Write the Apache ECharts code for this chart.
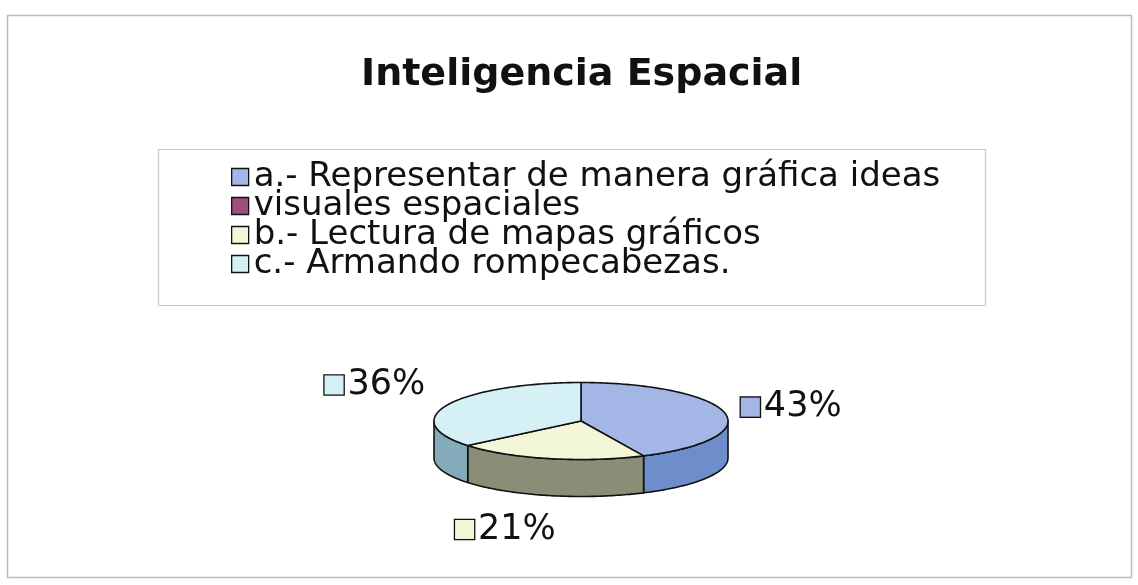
<!DOCTYPE html>
<html>
<head>
<meta charset="utf-8">
<script src="https://cdn.jsdelivr.net/npm/echarts@6/dist/echarts.min.js"></script>
<style>
  html, body { margin: 0; padding: 0; background: #fff; }
  #chart-container { width: 1138px; height: 585px; }
</style>
</head>
<body>
<div id="chart-container"></div>
<script>
var dom = document.getElementById("chart-container");
var myChart = echarts.init(dom, null, { renderer: "canvas" });

// data
const categories = [
  "a.- Representar de manera gráfica ideas",
  "visuales espaciales",
  "b.- Lectura de mapas gráficos",
  "c.- Armando rompecabezas.",
];
const values = [43, 0, 21, 36];

// look of the slices (top face / side wall)
const topColors = ["#A4B6E6", "#9C4F78", "#F4F6D8", "#D6F1F6"];
const sideColors = ["#6D8DCB", "#6E3050", "#8A8E77", "#83ABBA"];
// small label nudges, Excel style placement
const labelNudge = [[-8, 0], [0, 0], [-38, -8], [0, -9]];

// pie layout
const pie = { cx: 581, cy: 421, rx: 147, ry: 38.5, depth: 37, gap: 25 };

const total = values.reduce((a, b) => a + b, 0);

function pt(theta, dy) {
  return [pie.cx + pie.rx * Math.sin(theta), pie.cy - pie.ry * Math.cos(theta) + (dy || 0)];
}

function arc(a0, a1, dy) {
  var pts = [];
  var n = Math.max(2, Math.ceil(((a1 - a0) * 180) / Math.PI));
  for (var i = 0; i <= n; i++) {
    pts.push(pt(a0 + ((a1 - a0) * i) / n, dy));
  }
  return pts;
}

function renderSlice(idx) {
  return function (params, api) {
    var v = api.value(0);
    if (!v) return { type: "group", children: [] };
    var before = 0;
    for (var i = 0; i < idx; i++) before += values[i];
    var a0 = (before / total) * Math.PI * 2;
    var a1 = ((before + v) / total) * Math.PI * 2;
    var children = [];

    // front side wall
    var s = Math.max(a0, Math.PI / 2);
    var e = Math.min(a1, Math.PI * 1.5);
    if (e > s) {
      var wall = arc(s, e, 0).concat(arc(s, e, pie.depth).reverse());
      children.push({
        type: "polygon",
        z2: 1,
        shape: { points: wall },
        style: { fill: sideColors[idx], stroke: "#111", lineWidth: 1.6, lineJoin: "round" },
      });
    }

    // top face
    var top = [[pie.cx, pie.cy]].concat(arc(a0, a1, 0));
    children.push({
      type: "polygon",
      z2: 2,
      shape: { points: top },
      style: { fill: topColors[idx], stroke: "#111", lineWidth: 1.6, lineJoin: "round" },
    });

    // label
    var m = (a0 + a1) / 2;
    var sx = Math.sin(m), cy = -Math.cos(m);
    var lx = pie.cx + (pie.rx + pie.gap) * sx;
    var ly = pie.cy + (pie.ry + pie.gap) * cy + (cy > 0.5 ? pie.depth : 0);
    var align = sx > 0.3 ? "left" : sx < -0.3 ? "right" : "center";
    var valign = cy > 0.5 ? "top" : "middle";
    children.push({
      type: "text",
      z2: 3,
      x: lx + labelNudge[idx][0],
      y: ly + labelNudge[idx][1],
      style: {
        text: "{box|}{t|" + Math.round((v / total) * 100) + "%}",
        align: align,
        verticalAlign: valign,
        rich: {
          box: {
            width: 19, height: 19,
            backgroundColor: topColors[idx],
            borderColor: "#111", borderWidth: 1.3,
            verticalAlign: "middle",
          },
          t: {
            fontSize: 35, fontFamily: "DejaVu Sans", fill: "#111",
            padding: [0, 0, 0, 4], verticalAlign: "middle",
          },
        },
      },
    });
    return { type: "group", children: children };
  };
}

var option = {
  backgroundColor: "#fff",
  animation: false,
  title: {
    text: "Inteligencia Espacial",
    left: 356,
    top: 51,
    textStyle: { fontFamily: "DejaVu Sans", fontWeight: "bold", fontSize: 38, color: "#111" },
  },
  legend: {
    orient: "vertical",
    left: 231,
    top: 160,
    padding: 0,
    itemGap: -5,
    itemWidth: 17,
    itemHeight: 17,
    icon: "rect",
    selectedMode: false,
    itemStyle: { borderColor: "#111", borderWidth: 1.3 },
    textStyle: { fontFamily: "DejaVu Sans", fontSize: 34, color: "#111", lineHeight: 29 },
    data: categories,
  },
  graphic: [
    {
      type: "rect",
      silent: true,
      shape: { x: 7.5, y: 15.5, width: 1124, height: 562 },
      style: { fill: null, stroke: "#bdbdbd", lineWidth: 1.5 },
    },
    {
      type: "rect",
      silent: true,
      shape: { x: 158.5, y: 149.5, width: 827, height: 156 },
      style: { fill: null, stroke: "#c9c9c9", lineWidth: 1.2 },
    },
  ],
  series: categories.map(function (name, i) {
    return {
      type: "custom",
      name: name,
      coordinateSystem: "none",
      itemStyle: { color: topColors[i] },
      renderItem: renderSlice(i),
      data: [[values[i]]],
    };
  }),
};

if (option && typeof option === "object") {
  myChart.setOption(option);
}

window.addEventListener("resize", myChart.resize);
</script>
</body>
</html>
